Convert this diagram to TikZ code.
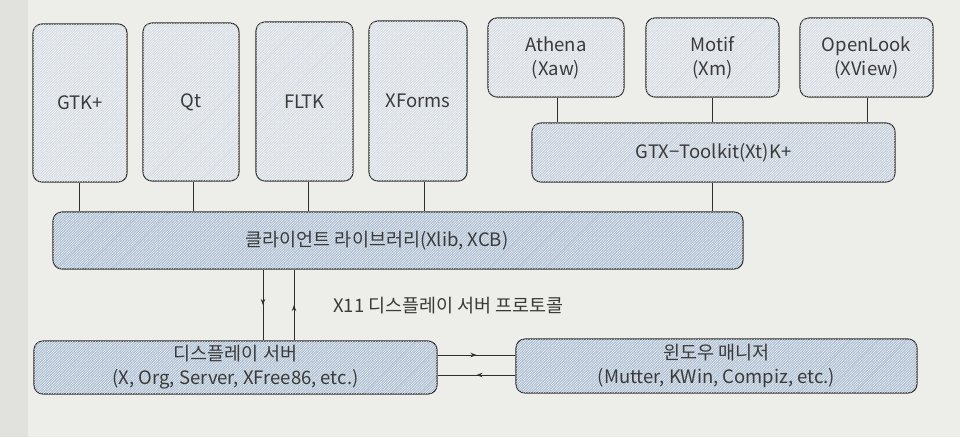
\documentclass[tikz,border=0pt]{standalone}
\usepackage{fontspec}
\setmainfont{Noto Sans CJK KR}
\usetikzlibrary{decorations.markings,arrows.meta,patterns.meta}
\definecolor{bg}{HTML}{EDEDE9}
\definecolor{strip}{HTML}{E1E1DD}
\definecolor{pale}{HTML}{D6DCE3}
\definecolor{midb}{HTML}{C4CEDA}
\definecolor{deep}{HTML}{AEBFD2}
\definecolor{ink}{HTML}{2E2E2E}
\definecolor{txt}{HTML}{3A3A3A}
\tikzset{
  box/.style={draw=ink, line width=1.1pt, rounded corners=9pt, text=txt,
    font=\fontsize{18.5}{24}\selectfont, align=center, inner sep=0pt,
    postaction={fill opacity=0.18, pattern={Lines[angle=45,distance=1.8pt,line width=0.35pt]}, pattern color=white}},
  palebox/.style={box, fill=pale},
  midbox/.style={box, fill=midb},
  deepbox/.style={box, fill=deep},
  link/.style={draw=ink, line width=0.9pt},
  midarrow/.style={link, decoration={markings, mark=at position 0.5 with {\arrow{Stealth[length=6pt,width=4.5pt]}}}, postaction={decorate}},
  lbl/.style={text=txt, font=\fontsize{18.5}{24}\selectfont, inner sep=0pt}
}
\begin{document}
\begin{tikzpicture}[x=1pt,y=-1pt]
\useasboundingbox (0,0) rectangle (960,437);
\fill[bg] (0,0) rectangle (960,437);
\fill[strip] (0,0) rectangle (28,437);

% top toolkits
\node[palebox, minimum width=94pt, minimum height=158pt] (gtk) at (80,103) {GTK+};
\node[palebox, minimum width=96pt, minimum height=158pt] (qt) at (191,102) {Qt};
\node[palebox, minimum width=97pt, minimum height=159pt] (fltk) at (304.5,101.5) {FLTK};
\node[palebox, minimum width=98pt, minimum height=160pt] (xforms) at (418,101) {XForms};

\node[palebox, minimum width=136pt, minimum height=79pt] (athena) at (556,57.5) {Athena\\(Xaw)};
\node[palebox, minimum width=133pt, minimum height=79pt] (motif) at (712.5,57.5) {Motif\\(Xm)};
\node[palebox, minimum width=133pt, minimum height=79pt] (openlook) at (866.5,57.5) {OpenLook\\(XView)};

\node[midbox, minimum width=363pt, minimum height=59pt] (xt) at (713.5,152.5) {GTX{\textminus}Toolkit(Xt)K+};

\node[deepbox, minimum width=690pt, minimum height=57pt,
  label={[lbl, xshift=-21pt]center:클라이언트 라이브러리(Xlib, XCB)}] (lib) at (398,240.5) {};

\node[deepbox, minimum width=403pt, minimum height=53pt] (ds) at (235.5,367.5) {디스플레이 서버\\(X, Org, Server, XFree86, etc.)};
\node[deepbox, minimum width=401pt, minimum height=54pt] (wm) at (716.5,366) {윈도우 매니저\\(Mutter, KWin, Compiz, etc.)};

% connectors toolkits -> lib
\coordinate (c1) at (79,0);
\coordinate (c2) at (193,0);
\coordinate (c3) at (308,0);
\coordinate (c4) at (424,0);
\draw[link] (c1 |- gtk.south) -- (c1 |- lib.north);
\draw[link] (c2 |- qt.south) -- (c2 |- lib.north);
\draw[link] (c3 |- fltk.south) -- (c3 |- lib.north);
\draw[link] (c4 |- xforms.south) -- (c4 |- lib.north);

\coordinate (d1) at (557,0);
\coordinate (d2) at (712,0);
\coordinate (d3) at (867,0);
\draw[link] (d1 |- athena.south) -- (d1 |- xt.north);
\draw[link] (d2 |- motif.south) -- (d2 |- xt.north);
\draw[link] (d3 |- openlook.south) -- (d3 |- xt.north);
\draw[link] (d2 |- xt.south) -- (d2 |- lib.north);

% protocol arrows
\coordinate (v1) at (263,0);
\coordinate (v2) at (294,0);
\draw[midarrow] (v1 |- lib.south) -- (v1 |- ds.north);
\draw[midarrow] (v2 |- ds.north) -- (v2 |- lib.south);
\node[lbl, anchor=west] (proto) at (333,306) {X11 디스플레이 서버 프로토콜};

\coordinate (h1) at (0,355);
\coordinate (h2) at (0,375);
\draw[midarrow] (h1 -| ds.east) -- (h1 -| wm.west);
\draw[midarrow] (h2 -| wm.west) -- (h2 -| ds.east);
\end{tikzpicture}
\end{document}
